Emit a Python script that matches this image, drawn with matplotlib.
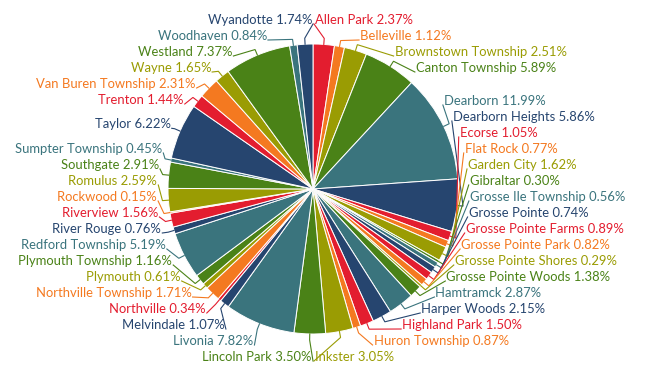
import numpy as np
import matplotlib.pyplot as plt

# Share of total per city / township
names = ["Allen Park", "Belleville", "Brownstown Township", "Canton Township",
         "Dearborn", "Dearborn Heights", "Ecorse", "Flat Rock", "Garden City",
         "Gibraltar", "Grosse Ile Township", "Grosse Pointe", "Grosse Pointe Farms",
         "Grosse Pointe Park", "Grosse Pointe Shores", "Grosse Pointe Woods",
         "Hamtramck", "Harper Woods", "Highland Park", "Huron Township", "Inkster",
         "Lincoln Park", "Livonia", "Melvindale", "Northville", "Northville Township",
         "Plymouth", "Plymouth Township", "Redford Township", "River Rouge",
         "Riverview", "Rockwood", "Romulus", "Southgate", "Sumpter Township",
         "Taylor", "Trenton", "Van Buren Township", "Wayne", "Westland",
         "Woodhaven", "Wyandotte"]
shares = [2.37, 1.12, 2.51, 5.89, 11.99, 5.86, 1.05, 0.77, 1.62, 0.30, 0.56, 0.74,
          0.89, 0.82, 0.29, 1.38, 2.87, 2.15, 1.50, 0.87, 3.05, 3.50, 7.82, 1.07,
          0.34, 1.71, 0.61, 1.16, 5.19, 0.76, 1.56, 0.15, 2.59, 2.91, 0.45, 6.22,
          1.44, 2.31, 1.65, 7.37, 0.84, 1.74]

palette = ["#e31d2f", "#f47920", "#9a9c03", "#4a8217", "#3a747d", "#26456f"]
colors = [palette[i % len(palette)] for i in range(len(shares))]

W, H = 650, 381
cx, cy, r = 313, 189, 145          # pie centre / radius in pixels (y down)

plt.rcParams['font.family'] = ['Lato', 'DejaVu Sans']
fig = plt.figure(figsize=(W / 100, H / 100), dpi=100)
ax = fig.add_axes([0, 0, 1, 1])

ax.pie(shares, colors=colors, startangle=90, counterclock=False,
       center=(cx, H - cy), radius=r,
       wedgeprops=dict(edgecolor="white", linewidth=0.7))
ax.set_xlim(0, W)
ax.set_ylim(0, H)
ax.set_axis_off()


def spread(targets, lo, hi, gap):
    # merge overlapping labels into groups centred on their targets
    groups = [[i] for i in range(len(targets))]

    def start(g):
        s = np.mean([targets[i] for i in g]) - gap * (len(g) - 1) / 2
        return min(max(s, lo), hi - gap * (len(g) - 1))

    merged = True
    while merged:
        merged = False
        for k in range(len(groups) - 1):
            a, b = groups[k], groups[k + 1]
            if start(a) + gap * len(a) > start(b):
                groups[k] = a + b
                del groups[k + 1]
                merged = True
                break
    pos = {}
    for g in groups:
        s = start(g)
        for j, i in enumerate(g):
            pos[i] = s + gap * j
    return [pos[i] for i in range(len(targets))]


frac = np.array(shares) / np.sum(shares)
ends = np.cumsum(frac)
mids = (ends - frac / 2) * 2 * np.pi       # clockwise from top
right = [i for i in range(len(shares)) if mids[i] < np.pi]
left = [i for i in range(len(shares)) if mids[i] >= np.pi]

lo, hi, gap = 20, 357, 16
for side in (right, left):
    tgt = {i: cy - 162 * np.cos(mids[i]) for i in side}
    order = sorted(side, key=lambda i: tgt[i])
    ys = spread([tgt[i] for i in order], lo, hi, gap)
    for i, y in zip(order, ys):
        f = np.sqrt(max(0.0, 1 - ((y - 191) / 162) ** 2))
        a = mids[i]
        tx, ty = cx + r * np.sin(a), cy - r * np.cos(a)
        bx, by = cx + (r + 6) * np.sin(a), cy - (r + 6) * np.cos(a)
        label = f"{names[i]} {shares[i]:.2f}%"
        if side is right:
            x = cx + 2 + 155 * f
            ax.text(x, H - y, label, color=colors[i], fontsize=9.4,
                    ha="left", va="center")
            lx = x - 1
        else:
            x = cx - 1 - 155 * f
            ax.text(x, H - y, label, color=colors[i], fontsize=9.4,
                    ha="right", va="center")
            lx = x + 1
        ax.plot([lx, bx, tx], [H - (y + 4), H - by, H - ty],
                color=colors[i], lw=0.8, solid_joinstyle="miter")

fig.savefig("out.png", dpi=100)
